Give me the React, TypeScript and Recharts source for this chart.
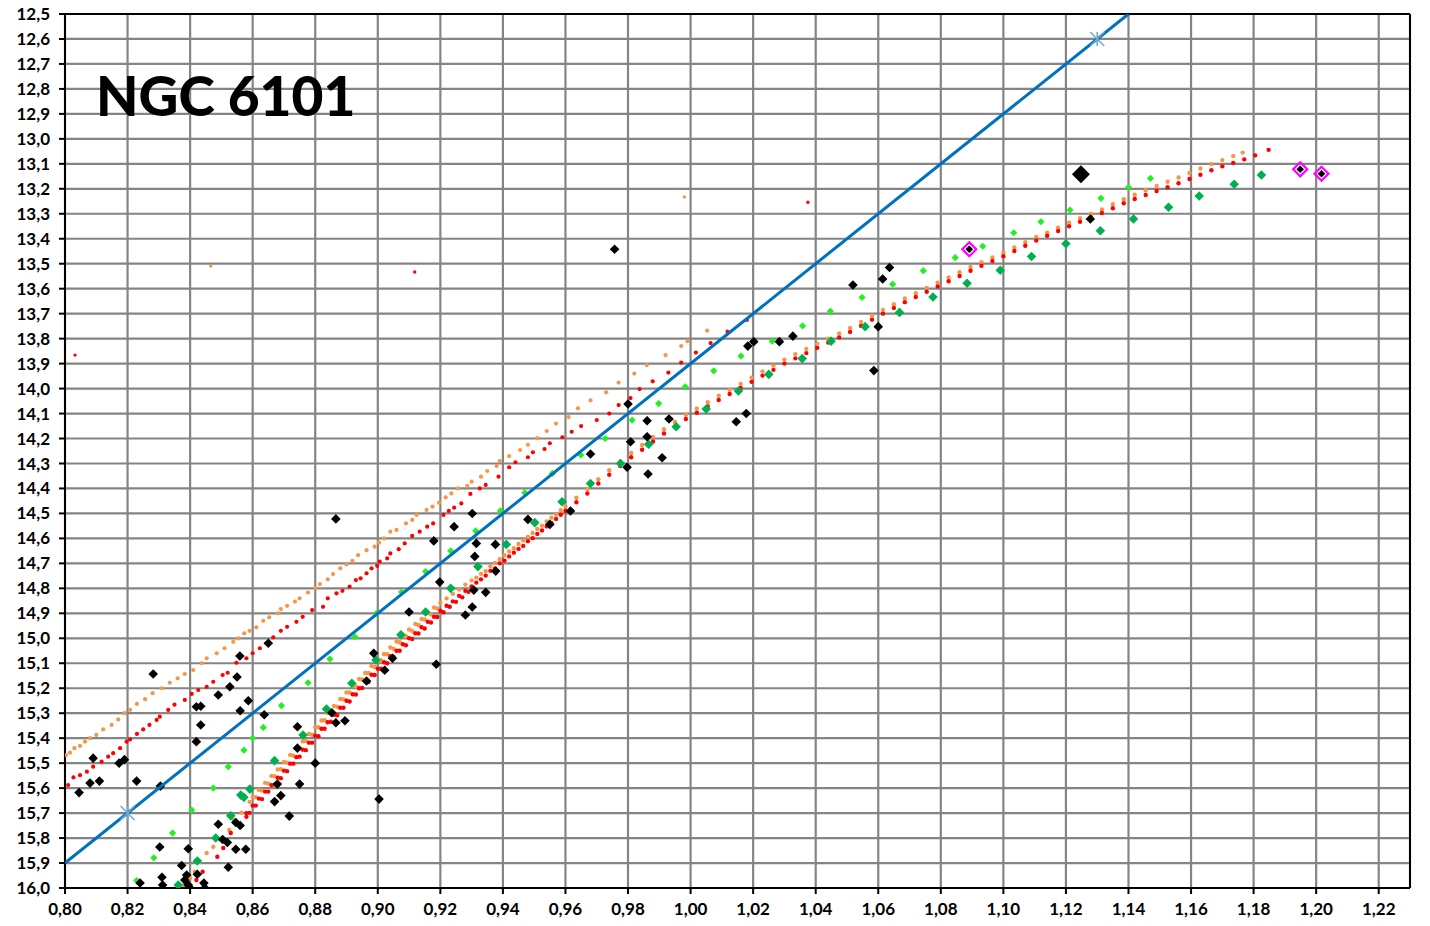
import { CartesianGrid, ReferenceLine, Scatter, ScatterChart, XAxis, YAxis } from 'recharts';

type P = [number, number];

const xTicks = [0.8, 0.82, 0.84, 0.86, 0.88, 0.9, 0.92, 0.94, 0.96, 0.98, 1.0, 1.02, 1.04, 1.06, 1.08, 1.1, 1.12, 1.14, 1.16, 1.18, 1.2, 1.22];
const yTicks = [
  12.5, 12.6, 12.7, 12.8, 12.9, 13.0, 13.1, 13.2, 13.3, 13.4, 13.5, 13.6, 13.7, 13.8, 13.9, 14.0, 14.1, 14.2,
  14.3, 14.4, 14.5, 14.6, 14.7, 14.8, 14.9, 15.0, 15.1, 15.2, 15.3, 15.4, 15.5, 15.6, 15.7, 15.8, 15.9, 16.0,
];

// blue reference line and its two star markers
const blueLine: P[] = [[0.8, 15.9], [1.14, 12.5]];
const stars: P[] = [[0.82, 15.7], [1.13, 12.6]];

// upper (bluer) sequences
const orangeUpper: P[] = [
  [0.8003, 15.468], [0.8016, 15.458], [0.803, 15.44], [0.8048, 15.431], [0.8064, 15.414], [0.808, 15.4], [0.81, 15.387],
  [0.8122, 15.365], [0.8149, 15.347], [0.817, 15.325], [0.819, 15.3], [0.8208, 15.287], [0.823, 15.263], [0.8256, 15.244],
  [0.828, 15.22], [0.831, 15.2], [0.8335, 15.178], [0.836, 15.16], [0.8383, 15.143], [0.841, 15.127], [0.8437, 15.1],
  [0.8453, 15.08], [0.8485, 15.06], [0.851, 15.04], [0.8538, 15.014], [0.8554, 15.0], [0.8573, 14.98], [0.859, 14.97],
  [0.8612, 14.956], [0.8634, 14.93], [0.8653, 14.916], [0.868, 14.9], [0.869, 14.883], [0.871, 14.87], [0.8735, 14.853],
  [0.875, 14.84], [0.8777, 14.817], [0.88, 14.798], [0.8815, 14.783], [0.884, 14.764], [0.8857, 14.743], [0.888, 14.72],
  [0.89, 14.704], [0.8919, 14.69], [0.8937, 14.667], [0.8964, 14.647], [0.899, 14.633], [0.9004, 14.617], [0.902, 14.6],
  [0.904, 14.573], [0.906, 14.566], [0.909, 14.54], [0.911, 14.526], [0.9124, 14.506], [0.9156, 14.486], [0.9175, 14.473],
  [0.9196, 14.457], [0.9217, 14.436], [0.9235, 14.42], [0.9257, 14.4], [0.9286, 14.39], [0.93, 14.373], [0.933, 14.353],
  [0.935, 14.33], [0.938, 14.31], [0.939, 14.29], [0.942, 14.27], [0.9455, 14.246], [0.948, 14.225], [0.951, 14.198],
  [0.954, 14.17], [0.957, 14.14], [0.961, 14.114], [0.964, 14.079], [0.968, 14.047], [0.973, 14.015], [0.977, 13.976],
  [0.982, 13.94], [0.986, 13.906], [0.992, 13.866], [0.997, 13.83], [0.999, 13.81], [1.0053, 13.768],
];
const redUpper: P[] = [
  [0.801, 15.588], [0.8027, 15.557], [0.8048, 15.548], [0.807, 15.534], [0.809, 15.514], [0.8117, 15.494], [0.8138, 15.474],
  [0.8154, 15.46], [0.8176, 15.44], [0.8197, 15.414], [0.8208, 15.405], [0.823, 15.383], [0.825, 15.365], [0.827, 15.347],
  [0.8293, 15.327], [0.8303, 15.314], [0.833, 15.287], [0.835, 15.266], [0.8383, 15.247], [0.8405, 15.223], [0.8426, 15.207],
  [0.8453, 15.194], [0.8474, 15.174], [0.8504, 15.147], [0.852, 15.138], [0.8548, 15.098], [0.858, 15.08], [0.86, 15.06],
  [0.8623, 15.04], [0.8644, 15.02], [0.8666, 14.996], [0.869, 14.97], [0.871, 14.954], [0.874, 14.934], [0.876, 14.914],
  [0.879, 14.887], [0.8825, 14.874], [0.884, 14.84], [0.8868, 14.82], [0.8887, 14.81], [0.891, 14.793], [0.893, 14.767],
  [0.8945, 14.76], [0.8964, 14.74], [0.898, 14.72], [0.8998, 14.71], [0.9006, 14.693], [0.903, 14.68], [0.904, 14.66],
  [0.9067, 14.643], [0.9086, 14.62], [0.911, 14.59], [0.9134, 14.573], [0.9158, 14.553], [0.9177, 14.54], [0.921, 14.506],
  [0.9227, 14.49], [0.9244, 14.477], [0.9267, 14.46], [0.9296, 14.422], [0.9326, 14.4], [0.9345, 14.386], [0.9386, 14.353],
  [0.942, 14.315], [0.944, 14.295], [0.948, 14.275], [0.9496, 14.255], [0.9533, 14.242], [0.955, 14.219], [0.959, 14.195],
  [0.962, 14.173], [0.965, 14.15], [0.97, 14.126], [0.974, 14.1], [0.977, 14.066], [0.9808, 14.038], [0.9837, 14.002],
  [0.9879, 13.971], [0.9929, 13.936], [0.997, 13.896], [1.0017, 13.856], [1.0064, 13.818], [1.0118, 13.772], [1.018, 13.725],
];

// main sequence (dense band), orange then red
const orangeMain: P[] = [
  [0.8564, 15.698], [0.854, 15.728], [0.8525, 15.768], [0.8495, 15.805], [0.8474, 15.835], [0.8453, 15.86], [0.843, 15.895],
  [0.8415, 15.935], [0.84, 15.96], [0.838, 15.988], [0.859, 15.655],
  [0.86, 15.635], [0.861, 15.636], [0.862, 15.607], [0.863, 15.61], [0.864, 15.579], [0.865, 15.582], [0.866, 15.551],
  [0.867, 15.552], [0.868, 15.525], [0.869, 15.524], [0.87, 15.495], [0.871, 15.498], [0.872, 15.467], [0.873, 15.47],
  [0.874, 15.439], [0.875, 15.44], [0.876, 15.413], [0.877, 15.412], [0.878, 15.383], [0.879, 15.386], [0.88, 15.355],
  [0.881, 15.356], [0.882, 15.329], [0.883, 15.328], [0.884, 15.299], [0.885, 15.302], [0.886, 15.271], [0.887, 15.274],
  [0.888, 15.243], [0.889, 15.244], [0.89, 15.217], [0.891, 15.217], [0.892, 15.189], [0.893, 15.193], [0.894, 15.163],
  [0.895, 15.165], [0.896, 15.139], [0.897, 15.139], [0.898, 15.111], [0.899, 15.115], [0.9, 15.085], [0.901, 15.088],
  [0.902, 15.063], [0.903, 15.064], [0.904, 15.037], [0.905, 15.042], [0.906, 15.013], [0.907, 15.016], [0.908, 14.991],
  [0.909, 14.992], [0.91, 14.965], [0.911, 14.971], [0.912, 14.943], [0.913, 14.947], [0.914, 14.923], [0.915, 14.925],
  [0.916, 14.899], [0.917, 14.905], [0.918, 14.877], [0.919, 14.881], [0.92, 14.857], [0.922, 14.84], [0.924, 14.822],
  [0.926, 14.805], [0.928, 14.785], [0.93, 14.768], [0.9315, 14.757], [0.933, 14.742], [0.9345, 14.731], [0.936, 14.712],
  [0.9375, 14.698], [0.939, 14.683], [0.9405, 14.667], [0.942, 14.652], [0.9435, 14.639], [0.945, 14.622], [0.9465, 14.608],
  [0.948, 14.594], [0.9495, 14.578], [0.951, 14.562], [0.9525, 14.549], [0.954, 14.532], [0.9555, 14.517], [0.957, 14.504],
  [0.9585, 14.487], [0.96, 14.472], [0.9635, 14.437], [0.967, 14.402], [0.9705, 14.363], [0.974, 14.327], [0.9775, 14.292],
  [0.981, 14.258], [0.9845, 14.226], [0.988, 14.194], [0.9915, 14.163], [0.995, 14.134], [0.9985, 14.105], [1.002, 14.08],
  [1.0055, 14.055], [1.009, 14.029], [1.0125, 14.005], [1.016, 13.981], [1.0195, 13.956], [1.023, 13.931], [1.0265, 13.908],
  [1.03, 13.884], [1.0335, 13.862], [1.037, 13.841], [1.0405, 13.82], [1.044, 13.8], [1.0475, 13.779], [1.051, 13.757],
  [1.0545, 13.733], [1.058, 13.708], [1.0615, 13.685], [1.065, 13.662], [1.0685, 13.639], [1.072, 13.618], [1.0755, 13.597],
  [1.079, 13.576], [1.0825, 13.555], [1.086, 13.534], [1.0895, 13.513], [1.093, 13.494], [1.0965, 13.475], [1.1, 13.456],
  [1.1035, 13.435], [1.107, 13.414], [1.1105, 13.393], [1.114, 13.376], [1.1175, 13.356], [1.121, 13.336], [1.1245, 13.318],
  [1.128, 13.3], [1.1315, 13.283], [1.135, 13.262], [1.1385, 13.242], [1.142, 13.224], [1.1455, 13.206], [1.149, 13.189],
  [1.1525, 13.172], [1.156, 13.155], [1.1595, 13.137], [1.163, 13.119], [1.1665, 13.101], [1.17, 13.085], [1.1735, 13.069],
  [1.1765, 13.055],
];
const redMain: P[] = [
  [0.858, 15.715], [0.856, 15.748], [0.853, 15.78], [0.8506, 15.84], [0.8487, 15.875], [0.844, 15.935], [0.842, 15.968],
  [0.84, 15.995],
  [0.858, 15.7], [0.859, 15.699], [0.86, 15.67], [0.861, 15.67], [0.862, 15.642], [0.863, 15.644], [0.864, 15.614],
  [0.865, 15.614], [0.866, 15.588], [0.867, 15.586], [0.868, 15.558], [0.869, 15.56], [0.87, 15.53], [0.871, 15.532],
  [0.872, 15.502], [0.873, 15.502], [0.874, 15.476], [0.875, 15.474], [0.876, 15.446], [0.877, 15.448], [0.878, 15.418],
  [0.879, 15.418], [0.88, 15.39], [0.881, 15.392], [0.882, 15.362], [0.883, 15.362], [0.884, 15.336], [0.885, 15.334],
  [0.886, 15.306], [0.887, 15.308], [0.888, 15.278], [0.889, 15.278], [0.89, 15.25], [0.891, 15.253], [0.892, 15.224],
  [0.893, 15.225], [0.894, 15.2], [0.895, 15.199], [0.896, 15.172], [0.897, 15.175], [0.898, 15.146], [0.899, 15.147],
  [0.9, 15.122], [0.901, 15.122], [0.902, 15.096], [0.903, 15.1], [0.904, 15.072], [0.905, 15.074], [0.906, 15.05],
  [0.907, 15.05], [0.908, 15.024], [0.909, 15.028], [0.91, 15.0], [0.911, 15.003], [0.912, 14.98], [0.913, 14.981],
  [0.914, 14.956], [0.915, 14.961], [0.916, 14.934], [0.917, 14.937], [0.918, 14.914], [0.919, 14.915], [0.92, 14.89],
  [0.921, 14.896], [0.922, 14.87], [0.923, 14.874], [0.924, 14.852], [0.925, 14.854], [0.926, 14.83], [0.927, 14.836],
  [0.928, 14.81], [0.929, 14.814], [0.93, 14.792], [0.9315, 14.777], [0.933, 14.764], [0.9345, 14.749], [0.936, 14.73],
  [0.9375, 14.72], [0.939, 14.7], [0.9405, 14.689], [0.942, 14.672], [0.9435, 14.657], [0.945, 14.642], [0.9465, 14.63],
  [0.948, 14.611], [0.9495, 14.599], [0.951, 14.582], [0.9525, 14.568], [0.954, 14.552], [0.9555, 14.538], [0.957, 14.522],
  [0.9585, 14.505], [0.96, 14.49], [0.9635, 14.455], [0.967, 14.42], [0.9705, 14.38], [0.974, 14.345], [0.9775, 14.31],
  [0.981, 14.275], [0.9845, 14.245], [0.988, 14.212], [0.9915, 14.18], [0.995, 14.152], [0.9985, 14.122], [1.002, 14.097],
  [1.0055, 14.072], [1.009, 14.046], [1.0125, 14.022], [1.016, 13.998], [1.0195, 13.973], [1.023, 13.948], [1.0265, 13.925],
  [1.03, 13.9], [1.0335, 13.879], [1.037, 13.858], [1.0405, 13.837], [1.044, 13.816], [1.0475, 13.795], [1.051, 13.773],
  [1.0545, 13.749], [1.058, 13.724], [1.0615, 13.7], [1.065, 13.677], [1.0685, 13.654], [1.072, 13.633], [1.0755, 13.612],
  [1.079, 13.591], [1.0825, 13.57], [1.086, 13.549], [1.0895, 13.528], [1.093, 13.508], [1.0965, 13.489], [1.1, 13.47],
  [1.1035, 13.449], [1.107, 13.428], [1.1105, 13.407], [1.114, 13.388], [1.1175, 13.369], [1.121, 13.35], [1.1245, 13.332],
  [1.128, 13.314], [1.1315, 13.297], [1.135, 13.278], [1.1385, 13.258], [1.142, 13.241], [1.1455, 13.225], [1.149, 13.209],
  [1.1525, 13.194], [1.156, 13.178], [1.1595, 13.161], [1.163, 13.144], [1.1665, 13.126], [1.17, 13.11], [1.1735, 13.096],
  [1.177, 13.082], [1.1805, 13.066], [1.1848, 13.044],
];

// isolated dots
const orangeStray: P[] = [[0.8466, 13.509], [0.998, 13.233]];
const redStray: P[] = [[0.8032, 13.866], [0.9118, 13.533], [1.0375, 13.254]];

// observed stars
const blackStars: P[] = [
  [0.8045, 15.618], [0.808, 15.58], [0.811, 15.572], [0.809, 15.48], [0.8173, 15.5], [0.819, 15.486], [0.8229, 15.572],
  [0.8305, 15.592], [0.8282, 15.143], [0.842, 15.274], [0.8434, 15.272], [0.8434, 15.347], [0.842, 15.414], [0.849, 15.227],
  [0.8527, 15.194], [0.855, 15.155], [0.8559, 15.071], [0.856, 15.29], [0.8586, 15.25], [0.8637, 15.306], [0.865, 15.02],
  [0.8743, 15.354], [0.8743, 15.44], [0.88, 15.5], [0.8853, 15.298], [0.8866, 15.338], [0.8895, 15.33], [0.875, 15.584],
  [0.8679, 15.584], [0.869, 15.63], [0.867, 15.654], [0.8717, 15.712], [0.9004, 15.644], [0.849, 15.745], [0.8546, 15.738],
  [0.856, 15.75], [0.8504, 15.806], [0.8519, 15.818], [0.8303, 15.836], [0.8394, 15.843], [0.8546, 15.845], [0.8578, 15.845],
  [0.8373, 15.91], [0.8522, 15.917], [0.831, 15.957], [0.8389, 15.948], [0.8383, 15.968], [0.8312, 15.988], [0.824, 15.98],
  [0.8394, 15.988], [0.8444, 15.98], [0.84, 16.0], [0.8447, 16.0], [0.8423, 15.945], [0.8866, 14.522], [0.8987, 15.06],
  [0.9047, 15.08], [0.9022, 15.128], [0.8964, 15.171], [0.9187, 15.104], [0.91, 14.895], [0.928, 14.907], [0.9302, 14.875],
  [0.9307, 14.807], [0.9345, 14.816], [0.9198, 14.775], [0.9377, 14.731], [0.931, 14.672], [0.9315, 14.62], [0.9376, 14.624],
  [0.9179, 14.61], [0.9244, 14.553], [0.9302, 14.5], [0.948, 14.524], [0.955, 14.544], [0.9616, 14.49], [0.968, 14.262],
  [0.9797, 14.315], [0.9864, 14.342], [0.9909, 14.277], [0.9808, 14.213], [0.9861, 14.193], [0.9861, 14.129], [0.9931, 14.122],
  [0.98, 14.062], [0.9757, 13.442], [1.0146, 14.133], [1.0178, 14.1], [1.0183, 13.83], [1.0202, 13.812], [1.0284, 13.812],
  [1.0327, 13.79], [1.0519, 13.585], [1.0614, 13.561], [1.0636, 13.515], [1.06, 13.752], [1.0586, 13.928], [1.1278, 13.321],
];
const limeStars: P[] = [
  [0.8229, 15.97], [0.8284, 15.879], [0.8344, 15.78], [0.8405, 15.688], [0.8474, 15.6], [0.8522, 15.514], [0.8572, 15.448],
  [0.86, 15.4], [0.8634, 15.357], [0.8692, 15.27], [0.8777, 15.178], [0.8847, 15.083], [0.8927, 14.994], [0.8996, 14.9],
  [0.9076, 14.815], [0.9153, 14.733], [0.9233, 14.65], [0.9313, 14.57], [0.9392, 14.49], [0.947, 14.417], [0.9558, 14.34],
  [0.9649, 14.266], [0.9727, 14.2], [0.9813, 14.126], [0.9898, 14.06], [0.9983, 13.993], [1.0074, 13.929], [1.0161, 13.87],
  [1.0261, 13.81], [1.0358, 13.749], [1.0447, 13.69], [1.0548, 13.635], [1.0646, 13.582], [1.0744, 13.528], [1.0846, 13.476],
  [1.0934, 13.43], [1.1033, 13.376], [1.112, 13.332], [1.1213, 13.285], [1.1312, 13.238], [1.14, 13.194], [1.147, 13.158],
];
const greenStars: P[] = [
  [0.8362, 15.988], [0.8423, 15.892], [0.8482, 15.8], [0.853, 15.711], [0.8572, 15.637], [0.8562, 15.628], [0.8591, 15.604],
  [0.867, 15.49], [0.8761, 15.387], [0.8836, 15.283], [0.8917, 15.18], [0.8994, 15.087], [0.9074, 14.986], [0.9153, 14.895],
  [0.9233, 14.8], [0.932, 14.713], [0.9411, 14.624], [0.9502, 14.537], [0.9589, 14.453], [0.968, 14.38], [0.9776, 14.3],
  [0.9866, 14.223], [0.9954, 14.153], [1.005, 14.082], [1.0153, 14.01], [1.025, 13.943], [1.0357, 13.88], [1.0449, 13.81],
  [1.0558, 13.752], [1.0668, 13.695], [1.0775, 13.633], [1.0884, 13.578], [1.099, 13.526], [1.109, 13.471], [1.12, 13.42],
  [1.131, 13.368], [1.1416, 13.321], [1.1528, 13.274], [1.1626, 13.229], [1.1738, 13.182], [1.1825, 13.145],
];
const magentaStars: P[] = [[1.0891, 13.442], [1.1949, 13.122], [1.2017, 13.14]];
const brightStar: P[] = [[1.1248, 13.142]];

const pts = (a: P[]) => a.map(([x, y]) => ({ x, y }));

const dot = (fill: string, r: number) => (p: any) => <circle cx={p.cx} cy={p.cy} r={r} fill={fill} />;

const dia = (cx: number, cy: number, s: number) =>
  `${cx},${cy - s} ${cx + s},${cy} ${cx},${cy + s} ${cx - s},${cy}`;

const diamond = (fill: string, s: number) => (p: any) => <polygon points={dia(p.cx, p.cy, s)} fill={fill} />;

const hollowDiamond = (p: any) => (
  <g>
    <polygon points={dia(p.cx, p.cy, 7)} fill="none" stroke="#FF00FF" strokeWidth={2.2} />
    <polygon points={dia(p.cx, p.cy, 3.8)} fill="#000" />
  </g>
);

const starShape = (p: any) => {
  const s = 7;
  return (
    <g stroke="#6FA8D0" strokeWidth={1.5}>
      <line x1={p.cx - s} y1={p.cy - s} x2={p.cx + s} y2={p.cy + s} />
      <line x1={p.cx - s} y1={p.cy + s} x2={p.cx + s} y2={p.cy - s} />
      <line x1={p.cx} y1={p.cy - s} x2={p.cx} y2={p.cy + s} />
    </g>
  );
};

const fmt = (d: number) => (v: number) => v.toFixed(d).replace('.', ',');
const tickStyle = { fill: '#000', fontSize: 17, fontWeight: 700, fontFamily: 'Lato, sans-serif' };

export default function App() {
  return (
    <div style={{ position: 'relative', width: 1420, height: 918 }}>
      <style>{'.recharts-surface { overflow: visible; }'}</style>
      <ScatterChart width={1420} height={918} margin={{ top: 6, right: 18, left: 0, bottom: 0 }}>
        <CartesianGrid stroke="#858585" strokeWidth={2.2} />
        <XAxis
          type="number"
          dataKey="x"
          domain={[0.8, 1.23]}
          ticks={xTicks}
          interval={0}
          tickFormatter={fmt(2)}
          tick={tickStyle}
          height={38}
          tickSize={6}
          tickMargin={9}
          axisLine={{ stroke: '#000', strokeWidth: 2 }}
          tickLine={{ stroke: '#000', strokeWidth: 2 }}
          allowDataOverflow
        />
        <YAxis
          type="number"
          dataKey="y"
          reversed
          domain={[12.5, 16]}
          ticks={yTicks}
          interval={0}
          tickFormatter={fmt(1)}
          tick={tickStyle}
          width={57}
          tickSize={6}
          tickMargin={9}
          axisLine={{ stroke: '#000', strokeWidth: 2 }}
          tickLine={{ stroke: '#000', strokeWidth: 2 }}
          allowDataOverflow
        />
        <ReferenceLine y={12.5} stroke="#000" strokeWidth={2} />
        <ReferenceLine x={1.23} stroke="#000" strokeWidth={2} />
        <Scatter data={pts(orangeUpper)} shape={dot('#F79646', 2.1)} isAnimationActive={false} />
        <Scatter data={pts(redUpper)} shape={dot('#FF0000', 2.1)} isAnimationActive={false} />
        <Scatter data={pts(orangeMain)} shape={dot('#F79646', 2.2)} isAnimationActive={false} />
        <Scatter data={pts(redMain)} shape={dot('#FF0000', 2.2)} isAnimationActive={false} />
        <Scatter data={pts(orangeStray)} shape={dot('#F79646', 1.7)} isAnimationActive={false} />
        <Scatter data={pts(redStray)} shape={dot('#FF0000', 1.7)} isAnimationActive={false} />
        <Scatter data={pts(limeStars)} shape={diamond('#22F022', 3.6)} isAnimationActive={false} />
        <Scatter data={pts(greenStars)} shape={diamond('#00B050', 4.8)} isAnimationActive={false} />
        <Scatter data={pts(blackStars)} shape={diamond('#000', 4.8)} isAnimationActive={false} />
        <Scatter
          data={pts(blueLine)}
          line={{ stroke: '#0070C0', strokeWidth: 3 }}
          shape={() => <g />}
          isAnimationActive={false}
        />
        <Scatter data={pts(stars)} shape={starShape} isAnimationActive={false} />
        <Scatter data={pts(magentaStars)} shape={hollowDiamond} isAnimationActive={false} />
        <Scatter data={pts(brightStar)} shape={diamond('#000', 9)} isAnimationActive={false} />
      </ScatterChart>
      <div
        style={{
          position: 'absolute',
          left: 88,
          top: 60,
          fontFamily: 'Lato, sans-serif',
          fontWeight: 900,
          fontSize: 55,
          lineHeight: 1,
          color: '#000',
          whiteSpace: 'nowrap',
        }}
      >
        NGC 6101
      </div>
    </div>
  );
}
